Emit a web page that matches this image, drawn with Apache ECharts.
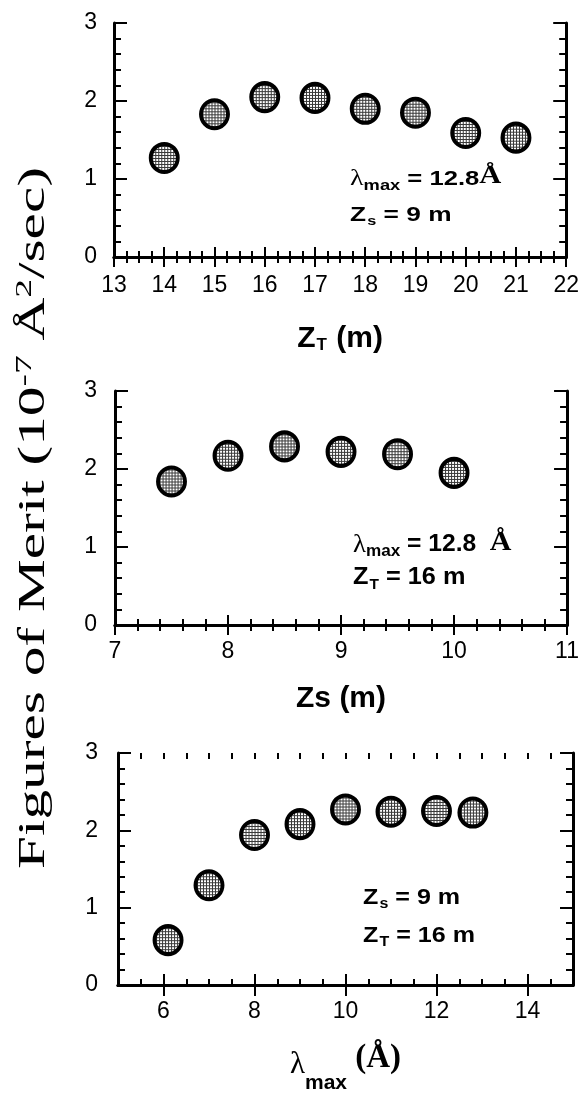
<!DOCTYPE html>
<html>
<head>
<meta charset="utf-8">
<script src="https://cdn.jsdelivr.net/npm/echarts@6/dist/echarts.min.js"></script>
<style>
html,body{margin:0;padding:0;background:#fff;}
#chart{width:582px;height:1095px;}
</style>
</head>
<body>
<div id="chart"></div>
<script>
// ---- data ----
const zTValues = [14, 15, 16, 17, 18, 19, 20, 21];
const zTMerit  = [1.27, 1.83, 2.05, 2.04, 1.90, 1.85, 1.59, 1.53];

const zSValues = [7.5, 8.0, 8.5, 9.0, 9.5, 10.0];
const zSMerit  = [1.84, 2.17, 2.29, 2.22, 2.19, 1.95];

const lambdaValues = [6.1, 7, 8, 9, 10, 11, 12, 12.8];
const lambdaMerit  = [0.58, 1.29, 1.94, 2.08, 2.27, 2.24, 2.25, 2.23];

const yTicks = [0, 1, 2, 3];
const lambdaTickLabels = [6, 8, 10, 12, 14];

// ---- styling helpers ----
const SANS = 'Liberation Sans, Arial, sans-serif';
const SERIF = 'Liberation Serif, Times New Roman, serif';
const SYM = [27, 28];

function makePattern() {
  const c = document.createElement('canvas');
  c.width = 3; c.height = 3;
  const ctx = c.getContext('2d');
  ctx.fillStyle = '#ffffff'; ctx.fillRect(0, 0, 3, 3);
  ctx.fillStyle = '#3a3a3a';
  ctx.fillRect(0, 0, 3, 1);
  ctx.fillRect(0, 0, 1, 3);
  return c;
}
const pattern = { image: makePattern(), repeat: 'repeat', scaleX: 2 / SYM[0], scaleY: 2 / SYM[1] };

const grids = [
  { left: 114, right: 582 - 569, top: 23, height: 234 },
  { left: 115, right: 582 - 573, top: 391, height: 234 },
  { left: 118, right: 582 - 573, top: 753, height: 236 }
];

const lineStyle = { color: '#000', width: 3 };
const LABEL_SIZE = 23;

function xAxisPair(gi, min, max, interval, minorSplit, labelMargin, name, nameGap, rich) {
  const base = {
    type: 'value', gridIndex: gi, min: min, max: max, interval: interval,
    axisLine: { show: true, lineStyle: lineStyle },
    axisTick: { show: true, inside: true, length: 10, lineStyle: { color: '#000', width: 2 } },
    minorTick: { show: true, splitNumber: minorSplit, length: 6, lineStyle: { color: '#000', width: 2 } },
    splitLine: { show: false },
    axisLabel: { show: true, color: '#000', fontFamily: SANS, fontSize: LABEL_SIZE, margin: labelMargin }
  };
  const bottom = Object.assign({}, base, {
    position: 'bottom', name: name, nameLocation: 'middle', nameGap: nameGap,
    nameTextStyle: { rich: rich }
  });
  const top = Object.assign({}, base, {
    position: 'top', axisLabel: { show: false }
  });
  return [bottom, top];
}

function yAxisPair(gi, margin) {
  const base = {
    type: 'value', gridIndex: gi, min: 0, max: 3, interval: 1,
    axisLine: { show: true, lineStyle: lineStyle },
    axisTick: { show: true, inside: true, length: 13, lineStyle: { color: '#000', width: 2 } },
    minorTick: { show: true, splitNumber: 5, length: 7, lineStyle: { color: '#000', width: 2 } },
    splitLine: { show: false },
    axisLabel: { show: true, color: '#000', fontFamily: SANS, fontSize: LABEL_SIZE, margin: margin }
  };
  return [
    Object.assign({}, base, { position: 'left' }),
    Object.assign({}, base, { position: 'right', axisLabel: { show: false } })
  ];
}

const nameRich1 = {
  a: { fontFamily: SANS, fontWeight: 'bold', fontSize: 30, color: '#000' },
  s: { fontFamily: SANS, fontWeight: 'bold', fontSize: 17, color: '#000', padding: [14, 1, 0, 1] }
};
const nameRich3 = {
  l: { fontFamily: SERIF, fontSize: 31, color: '#000' },
  s: { fontFamily: SANS, fontWeight: 'bold', fontSize: 21, color: '#000', padding: [38, 0, 0, 0] },
  p: { fontFamily: SERIF, fontWeight: 'bold', fontSize: 33, color: '#000', padding: [0, 0, 12, 0] }
};

// Panel 3 x-axis: 5..15 with labels/major ticks only at even values
const p3Base = {
  type: 'value', gridIndex: 2, min: 5, max: 15, interval: 0.5,
  splitLine: { show: false }
};
const p3Major = Object.assign({}, p3Base, {
  axisLine: { show: true, lineStyle: lineStyle },
  axisTick: { show: true, inside: true, length: 11, customValues: lambdaTickLabels, lineStyle: { color: '#000', width: 2 } },
  axisLabel: { show: true, customValues: lambdaTickLabels, color: '#000', fontFamily: SANS, fontSize: LABEL_SIZE, margin: 15 }
});
const p3MinorB = Object.assign({}, p3Base, {
  position: 'bottom',
  axisLine: { show: false },
  axisTick: { show: true, inside: true, length: 6, lineStyle: { color: '#000', width: 2 } },
  axisLabel: { show: false }
});
const p3MajorBottom = Object.assign({}, p3Major, {
  position: 'bottom', name: '{l|λ}{s|max}{p| (Å)}', nameLocation: 'middle', nameGap: 50,
  nameTextStyle: { rich: nameRich3 }
});
const p3MajorTop = Object.assign({}, p3Major, { position: 'top', axisLabel: { show: false } });
const p3MinorT = Object.assign({}, p3MinorB, { position: 'top' });

const xAxes = []
  .concat(xAxisPair(0, 13, 22, 1, 4, 17, '{a|Z}{s|T}{a| (m)}', 66, nameRich1))
  .concat(xAxisPair(1, 7, 11, 1, 5, 15, '{a|Zs (m)}', 59, nameRich1))
  .concat([p3MajorBottom, p3MajorTop, p3MinorB, p3MinorT]);

const yAxes = [].concat(yAxisPair(0, 17), yAxisPair(1, 18), yAxisPair(2, 20));

function scatter(xi, yi, xs, ys) {
  return {
    type: 'scatter', xAxisIndex: xi, yAxisIndex: yi,
    data: xs.map((x, i) => [x, ys[i]]),
    symbol: 'circle', symbolSize: SYM,
    itemStyle: { color: pattern, borderColor: '#000', borderWidth: 4, opacity: 1 },
    emphasis: { disabled: true }, silent: true, z: 5
  };
}

// annotation text
function annRich(fs) {
  return {
    l: { fontFamily: SERIF, fontSize: Math.round(fs * 1.1), fill: '#000' },
    m: { fontFamily: SANS, fontWeight: 'bold', fontSize: Math.round(fs * 0.7), fill: '#000', padding: [Math.round(fs * 0.6), 0, 0, 0] },
    b: { fontFamily: SANS, fontWeight: 'bold', fontSize: fs, fill: '#000' },
    s: { fontFamily: SANS, fontWeight: 'bold', fontSize: Math.round(fs * 0.62), fill: '#000', padding: [Math.round(fs * 0.6), 0, 0, 1] },
    A: { fontFamily: SERIF, fontWeight: 'bold', fontSize: Math.round(fs * 1.2), fill: '#000', padding: [0, 0, Math.round(fs * 0.2), 0] }
  };
}
// x, y = left edge and vertical centre of the text line
function ann(x, y, text, fs, sx) {
  return {
    type: 'text', x: x, y: y, scaleX: sx, scaleY: 1, z: 10,
    style: { text: text, rich: annRich(fs), fill: '#000', verticalAlign: 'middle', align: 'left' }
  };
}

// y title stretched along its reading direction
const titleFont = 38;
const yTitleText = '{t|Figures of Merit (10}{u|-7}{t| Å}{u|2}{t|/sec)}';
function measure(str, size) {
  const c = document.createElement('canvas').getContext('2d');
  c.font = size + 'px Liberation Serif';
  return c.measureText(str).width;
}
const supSize = Math.round(titleFont * 0.62);
const natural = measure('Figures of Merit (10', titleFont) + measure('-7', supSize) +
  measure(' Å', titleFont) + measure('2', supSize) + measure('/sec)', titleFont);
const titleScale = 702 / natural;

const option = {
  backgroundColor: '#fff',
  animation: false,
  grid: grids,
  xAxis: xAxes,
  yAxis: yAxes,
  series: [
    scatter(0, 0, zTValues, zTMerit),
    scatter(2, 2, zSValues, zSMerit),
    scatter(4, 4, lambdaValues, lambdaMerit)
  ],
  graphic: [
    ann(350, 179, '{l|λ}{m|max}{b| = 12.8}{A|Å}', 21, 1.22),
    ann(350, 215, '{b|Z}{s|s}{b| = 9 m}', 21, 1.25),
    ann(353, 545, '{l|λ}{m|max}{b| = 12.8  }{A|Å}', 23, 1.07),
    ann(353, 578, '{b|Z}{s|T}{b| = 16 m}', 23, 1.1),
    ann(363, 898, '{b|Z}{s|s}{b| = 9 m}', 22, 1.14),
    ann(363, 936, '{b|Z}{s|T}{b| = 16 m}', 22, 1.14),
    {
      type: 'text', x: 34, y: 518, rotation: Math.PI / 2, scaleX: titleScale, scaleY: 1, z: 10,
      style: {
        text: yTitleText, align: 'center', verticalAlign: 'middle',
        rich: {
          t: { fontFamily: SERIF, fontSize: titleFont, fill: '#000' },
          u: { fontFamily: SERIF, fontSize: supSize, fill: '#000', padding: [0, 0, 18, 0] }
        }
      }
    }
  ]
};

const chart = echarts.init(document.getElementById('chart'), null, { renderer: 'canvas' });
chart.setOption(option);
</script>
</body>
</html>
